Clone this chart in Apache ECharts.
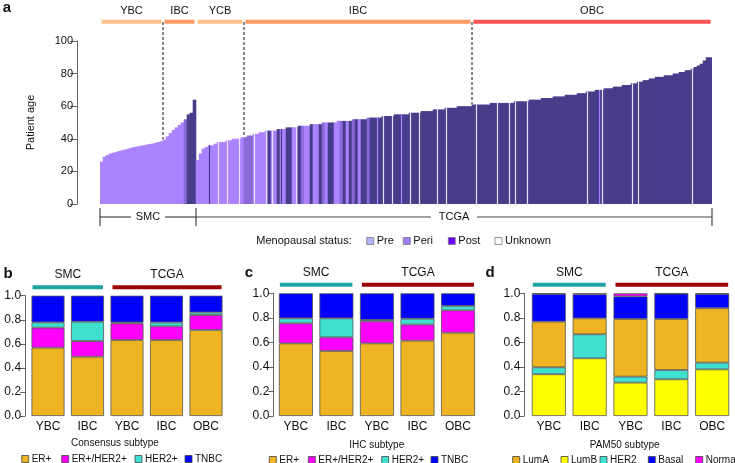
<!DOCTYPE html>
<html><head><meta charset="utf-8">
<script src="https://cdn.jsdelivr.net/npm/echarts@6/dist/echarts.min.js"></script>
<style>html,body{margin:0;padding:0;background:#fff}#c{width:735px;height:463px}</style>
</head><body><div id="c"></div>
<script>
// ---------------- Panel a data ----------------
const smcAges = [26,29,30,31,31.5,32,32.5,33,33.5,34,34.5,35,35.3,35.7,36,36.4,36.8,37,37.5,38,38.5,39.5,41.5,43.5,45.5,47,48.5,50,52,55,56,64];
const tcgaAges = [27,31,34,35,36,36,37,38,38,38, 39,39,40,40,40,41,41,42,42,43, 43,44,44,45,45,45,45,46,46,46,
  47,47,47,47,48,48,48,48,49,49, 49,49,50,50,50,50,50,51,51,51, 51,51,52,52,52,52,52,53,53,53,
  53,53,54,54,54,54,55,55,55,55, 55,56,56,56,56,57,57,57,57,58, 58,58,58,59,59,59,59,60,60,60,
  60,60,61,61,61,61,61,61,62,62, 62,62,62,62,62,62,63,63,63,63, 63,64,64,64,64,65,65,65,65,66,
  66,66,66,67,67,67,67,68,68,68, 69,69,69,70,70,70,71,71,71,72, 72,72,73,73,73,74,74,75,75,76,
  76,77,77,78,78,78,79,79,79,80, 80,81,81,82,82,83,84,85,86,88, 90,90];
// menopausal status runs (L = pre-like light, M = peri, D = post)
const smcStatusRuns = [['L',28],['M',1],['D',3]];
const tcgaStatusRuns = [['L',16],['M',3],['L',5],['D',1],['L',2],['D',1],['L',2],['D',2],['L',2],['D',1],['M',1],['L',2],['D',1],['L',2],['D',1],['M',1],['L',1],['D',2],['L',2],['M',1],['D',1],['L',1],['D',1],['M',1],['D',1],['L',1],['D',2],['M',1],['D',114]];
// thin stripes within TCGA (index, status)
const tcgaStripes = [[4,'D'],[7,'W'],[10,'W'],[14,'W'],[19,'W'],[23,'W'],[25,'W'],[28,'D'],[33,'W'],[60,'L'],[62,'W'],[65,'W'],[68,'L'],[71,'W'],[74,'W'],[80,'W'],[83,'W'],[93,'W'],[100,'W'],[104,'W'],[106,'W'],[110,'W'],[130,'W'],[134,'L'],[135,'W'],[145,'W'],[147,'W'],[165,'W']];
const ageGroups = [['YBC',21,'#FFC48C'],['IBC',11,'#FF9966'],['YCB',16,'#FFC48C'],['IBC',76,'#FF9966'],['OBC',80,'#FF5252']];
const ageTicks = [0,20,40,60,80,100];
const menoLegend = [['Pre','#B3B3FF'],['Peri','#A07CF8'],['Post','#6A00FF'],['Unknown','#FFFFFF']];

// ---------------- Panels b-d data ----------------
const barCats = ['YBC','IBC','YBC','IBC','OBC'];
const consensus = {
  'ER+':       [0.568,0.493,0.632,0.632,0.715],
  'ER+/HER2+': [0.166,0.130,0.138,0.113,0.124],
  'HER2+':     [0.044,0.161,0.008,0.033,0.022],
  'TNBC':      [0.222,0.216,0.222,0.222,0.139]
};
const ihc = {
  'ER+':       [0.592,0.530,0.592,0.614,0.679],
  'ER+/HER2+': [0.163,0.111,0.180,0.131,0.182],
  'HER2+':     [0.041,0.155,0.011,0.048,0.036],
  'TNBC':      [0.204,0.204,0.217,0.207,0.103]
};
const pam50 = {
  'LumB':   [0.340,0.470,0.272,0.299,0.380],
  'HER2':   [0.057,0.196,0.049,0.076,0.055],
  'LumA':   [0.372,0.130,0.470,0.416,0.443],
  'Basal':  [0.226,0.196,0.184,0.206,0.117],
  'Normal': [0.005,0.008,0.025,0.003,0.005]
};
const propTicks = [0,0.2,0.4,0.6,0.8,1.0];

// ---------------- styling ----------------
const FONT = '"Liberation Sans", Arial, Helvetica, sans-serif';
const statusColor = {L:'#AB82FF', M:'#8A6AD8', D:'#483D8B', W:'#E9E2FF'};
const subColor = {'ER+':'#EEB422','ER+/HER2+':'#FF00FF','HER2+':'#40E0D0','TNBC':'#0000FF',
  'LumA':'#EEB422','LumB':'#FFFF00','HER2':'#40E0D0','Basal':'#0000FF','Normal':'#FF00FF'};

function expand(runs){ const out=[]; runs.forEach(([c,n])=>{for(let i=0;i<n;i++)out.push(c);}); return out; }
const allAges = smcAges.concat(tcgaAges);
const allStatus = expand(smcStatusRuns).concat(expand(tcgaStatusRuns));
const idxCats = allAges.map((_,i)=>String(i));
const stripeData = allAges.map(()=>'-');
tcgaStripes.forEach(([i,c])=>{ const k=i+smcAges.length; stripeData[k]={value:allAges[k],itemStyle:{color:statusColor[c]}}; });

const panels = [
  {data:consensus, order:['ER+','ER+/HER2+','HER2+','TNBC'], grid:{left:28.25,width:197.5,top:295.7}, offset:3.2, barWidth:33},
  {data:ihc, order:['ER+','ER+/HER2+','HER2+','TNBC'], grid:{left:275.6,width:202.7,top:293.3}, offset:2.3, barWidth:34},
  {data:pam50, order:['LumB','HER2','LumA','Basal','Normal'], grid:{left:528.4,width:204.2,top:293.3}, offset:4.1, barWidth:34}
];

const series = [
  {type:'bar', xAxisIndex:0, yAxisIndex:0, barWidth:3.6,
   data: allAges.map((v,i)=>({value:v, itemStyle:{color:statusColor[allStatus[i]]}}))},
  {type:'bar', xAxisIndex:1, yAxisIndex:0, barWidth:1.2, data: stripeData}
];
panels.forEach((p,k)=>{
  p.order.forEach(name=>{
    series.push({type:'bar', name, stack:'s'+k, xAxisIndex:k+2, yAxisIndex:k+1, barWidth:p.barWidth,
      data:p.data[name], itemStyle:{color:subColor[name], borderColor:'#555', borderWidth:0.8}});
  });
});

const option = {
  animation:false,
  textStyle:{fontFamily:FONT},
  grid:[{left:100, width:612, top:41, bottom:259}].concat(panels.map(p=>Object.assign({bottom:47}, p.grid))),
  xAxis:[
    {type:'category', gridIndex:0, data:idxCats, show:false},
    {type:'category', gridIndex:0, data:idxCats, show:false}
  ].concat(panels.map((p,k)=>({type:'category', gridIndex:k+1, data:barCats,
      axisLine:{show:false}, axisTick:{show:false},
      axisLabel:{fontSize:12, color:'#111', margin:5, fontFamily:FONT}}))),
  yAxis:[
    {type:'value', gridIndex:0, min:ageTicks[0], max:ageTicks[ageTicks.length-1], interval:20, offset:23,
     name:'Patient age', nameLocation:'middle', nameGap:41, nameTextStyle:{fontSize:11, color:'#111', fontFamily:FONT},
     axisLine:{show:true, lineStyle:{color:'#666', width:1}}, axisTick:{show:true, length:7, lineStyle:{color:'#666'}},
     axisLabel:{fontSize:11, color:'#111', margin:4, fontFamily:FONT}, splitLine:{show:false}}
  ].concat(panels.map((p,k)=>({type:'value', gridIndex:k+1, min:propTicks[0], max:propTicks[propTicks.length-1], interval:0.2, offset:p.offset,
     axisLine:{show:true, lineStyle:{color:'#666', width:1}}, axisTick:{show:true, length:5, lineStyle:{color:'#666'}},
     axisLabel:{fontSize:12, color:'#111', margin:4, fontFamily:FONT, formatter:v=>v.toFixed(1)}, splitLine:{show:false}}))),
  series
};

const chart = echarts.init(document.getElementById('c'));
chart.setOption(option);

// ---------------- annotations via axis scales ----------------
const G = [];
function txt(x,y,t,size,opts){ G.push({type:'text', x, y, style:Object.assign({text:t, font:(opts&&opts.bold?'bold ':'')+size+'px '+FONT, fill:'#111', align:'center', verticalAlign:'middle'}, opts&&opts.style||{})}); }
function line(x1,y1,x2,y2,color,w,dash){ G.push({type:'line', shape:{x1,y1,x2,y2}, style:{stroke:color, lineWidth:w||1, lineDash:dash||null}}); }
function rect(x,y,w,h,fill,stroke){ G.push({type:'rect', shape:{x,y,width:w,height:h}, style:{fill, stroke:stroke||null, lineWidth:stroke?0.8:0}}); }

const c0 = chart.convertToPixel({xAxisIndex:0,yAxisIndex:0},[0,0]);
const c1 = chart.convertToPixel({xAxisIndex:0,yAxisIndex:0},[1,0]);
const bw = c1[0]-c0[0];
const leftEdge = i => chart.convertToPixel({xAxisIndex:0,yAxisIndex:0},[i,0])[0]-bw/2;
const topY = v => chart.convertToPixel({xAxisIndex:0,yAxisIndex:0},[0,v])[1];

// group segments
let start = 0;
ageGroups.forEach(([name,n,col])=>{
  const x0 = leftEdge(start), x1 = leftEdge(start+n);
  rect(x0+1.5, 19.7, x1-x0-3, 4, col);
  txt((x0+x1)/2, 11, name, 11);
  start += n;
});
// dashed boundaries: SMC YBC/IBC, TCGA YCB/IBC, TCGA IBC/OBC
const bounds = [ageGroups[0][1], ageGroups[0][1]+ageGroups[1][1]+ageGroups[2][1], ageGroups[0][1]+ageGroups[1][1]+ageGroups[2][1]+ageGroups[3][1]];
bounds.forEach(b=>{ const x = leftEdge(b); line(x, 22, x, topY(allAges[b]), '#111', 1, [3,2]); });

// cohort brackets
const smcN = smcAges.length, allN = allAges.length;
const xA = leftEdge(0), xB = leftEdge(smcN), xC = leftEdge(allN);
const by = 217;
line(xA,208,xA,226,'#222',1); line(xB,208,xB,226,'#222',1); line(xC,208,xC,226,'#222',1);
const mS = (xA+xB)/2, mT = (xB+xC)/2;
line(xA,by,mS-17,by,'#222',1); line(mS+17,by,xB,by,'#222',1); txt(mS,by,'SMC',11);
line(xB,by,mT-23,by,'#444',1); line(mT+23,by,xC,by,'#444',1); txt(mT,by,'TCGA',11);

// menopausal legend
txt(304,241,'Menopausal status:',11);
const menoX = [366.7,403.3,448.3,495];
menoLegend.forEach(([n,col],i)=>{ rect(menoX[i],237.5,7,7,col,'#777'); txt(menoX[i]+10,241,n,11,{style:{align:'left'}}); });

// panel letters
txt(7,8,'a',15,{bold:true}); txt(8,274,'b',15,{bold:true}); txt(249,273,'c',15,{bold:true}); txt(490,273,'d',15,{bold:true});

// panels b-d decorations
const subTitles = [['Consensus subtype',115,443],['IHC subtype',376.7,445],['PAM50 subtype',624.7,445]];
const legendX = [[21.7,61.7,135,185],[269.3,308.3,381.7,431],[512.7,561,600,648.3,695.7]];
const legendNames = [['ER+','ER+/HER2+','HER2+','TNBC'],['ER+','ER+/HER2+','HER2+','TNBC'],['LumA','LumB','HER2','Basal','Normal']];
const legendY = [459,460,460];
panels.forEach((p,k)=>{
  const ax = {xAxisIndex:k+2, yAxisIndex:k+1};
  const cx = i => chart.convertToPixel(ax,[i,0])[0];
  const gt = chart.convertToPixel(ax,[0,1])[1];
  const hw = p.barWidth/2;
  const s0 = cx(0)-hw+1, s1 = cx(1)+hw-1, t0 = cx(2)-hw+2, t1 = cx(4)+hw-1;
  rect(s0, gt-10.5, s1-s0, 4, '#1FA3A3');
  rect(t0, gt-10.5, t1-t0, 4, '#9A0505');
  txt((s0+s1)/2, gt-21, 'SMC', 12);
  txt((t0+t1)/2, gt-21, 'TCGA', 12);
  txt(subTitles[k][1], subTitles[k][2], subTitles[k][0], 10);
  legendNames[k].forEach((n,j)=>{
    rect(legendX[k][j], legendY[k]-3.5, 7, 7, subColor[n], '#444');
    txt(legendX[k][j]+10, legendY[k], n, 10, {style:{align:'left'}});
  });
});

chart.setOption({graphic:G});
</script>
</body></html>
